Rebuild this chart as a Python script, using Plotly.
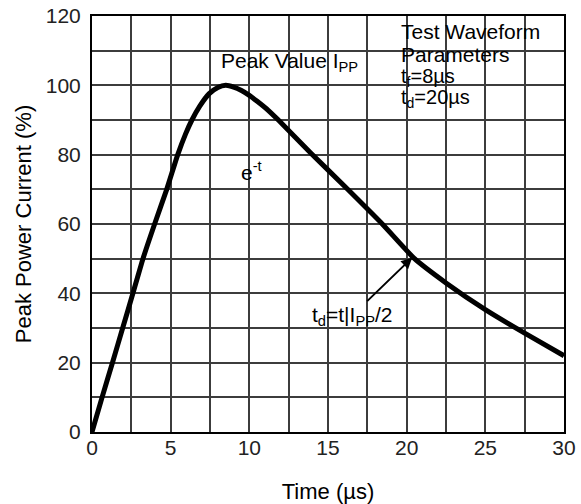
import plotly.graph_objects as go

# ---- data ----
time_us = [0, 0.64, 1.3, 1.95, 2.6, 3.24, 3.98, 4.75, 5.45, 5.95, 6.35, 6.85, 7.45, 8.0, 8.5,
           9.0, 9.5, 10.0, 10.5, 11.2, 11.8, 13.9, 16.25, 18.45, 20.5, 22.5, 25.0, 27.5, 30.0]
current_pct = [0, 10, 20, 30, 40, 50, 60, 70, 80, 86, 90, 94, 97.6, 99.4, 100,
               99.5, 98.5, 97.1, 95.4, 92.8, 90.2, 80.5, 70, 60, 50, 43, 35.3, 28.5, 22]

x_ticks = [0, 5, 10, 15, 20, 25, 30]
y_ticks = [0, 20, 40, 60, 80, 100, 120]

FONT = "Liberation Sans, Arial, sans-serif"
GRID = "#3c3c3c"

fig = go.Figure()
fig.add_trace(go.Scatter(
    x=time_us, y=current_pct, mode="lines",
    line=dict(color="black", width=5, shape="spline", smoothing=0.5),
    hoverinfo="skip", showlegend=False,
))

# white background patches behind the text blocks (above grid, below traces)
boxes = [
    (0.265, 0.604, 0.850, 0.928),   # Peak Value
    (0.642, 1.0, 0.778, 1.0),       # Test waveform parameters
    (0.419, 0.667, 0.232, 0.318),   # t_d label
    (0.31, 0.36, 0.60, 0.655),      # e^-t
]
shapes = []
for x0, x1, y0, y1 in boxes:
    shapes.append(dict(type="rect", xref="paper", yref="paper", x0=x0, x1=x1, y0=y0, y1=y1,
                       fillcolor="white", line=dict(width=0), layer="between"))

ann_font = dict(family=FONT, size=21, color="black")
box_font = dict(family=FONT, size=20, color="black")
annotations = [
    dict(text="Peak Value I<sub>PP</sub>", xref="paper", yref="paper", x=0.27, y=0.89,
         xanchor="left", yanchor="middle", showarrow=False, font=ann_font),
    dict(text="Test Waveform", xref="paper", yref="paper", x=0.65, y=0.963,
         xanchor="left", yanchor="middle", showarrow=False, font=ann_font),
    dict(text="Parameters", xref="paper", yref="paper", x=0.65, y=0.908,
         xanchor="left", yanchor="middle", showarrow=False, font=ann_font),
    dict(text="t<sub>f</sub>=8µs", xref="paper", yref="paper", x=0.65, y=0.853,
         xanchor="left", yanchor="middle", showarrow=False, font=box_font),
    dict(text="t<sub>d</sub>=20µs", xref="paper", yref="paper", x=0.65, y=0.801,
         xanchor="left", yanchor="middle", showarrow=False, font=box_font),
    dict(text="e<sup>-t</sup>", xref="paper", yref="paper", x=0.337, y=0.627,
         xanchor="center", yanchor="middle", showarrow=False, font=ann_font),
    dict(text="t<sub>d</sub>=t|I<sub>PP</sub>/2", x=20.35, y=50.3, xref="x", yref="y",
         showarrow=True, ax=-60, ay=58, arrowhead=2, arrowsize=1.1, arrowwidth=2,
         arrowcolor="black", font=ann_font),
]

fig.update_layout(
    width=581, height=504,
    margin=dict(l=92, r=17, t=16, b=72, autoexpand=False),
    paper_bgcolor="white", plot_bgcolor="white",
    font=dict(family=FONT, size=21, color="#222"),
    shapes=shapes, annotations=annotations,
    xaxis=dict(
        range=[0, 30], tickvals=x_ticks, ticktext=[str(v) for v in x_ticks],
        showgrid=True, gridcolor=GRID, gridwidth=1.6,
        minor=dict(dtick=2.5, showgrid=True, gridcolor=GRID, gridwidth=1.6),
        showline=True, linecolor="black", linewidth=2, mirror=True,
        ticks="", zeroline=False, ticklabelstandoff=-4, automargin=False,
        ticklabeloverflow="allow",
        tickfont=dict(family=FONT, size=21, color="#222"),
        title=dict(text="Time (µs)", font=dict(family=FONT, size=22, color="black"), standoff=31),
    ),
    yaxis=dict(
        range=[0, 120], tickvals=y_ticks, ticktext=[str(v) for v in y_ticks],
        showgrid=True, gridcolor=GRID, gridwidth=1.6,
        minor=dict(dtick=10, showgrid=True, gridcolor=GRID, gridwidth=1.6),
        showline=True, linecolor="black", linewidth=2, mirror=True,
        ticks="", zeroline=False, ticklabelstandoff=5, automargin=False,
        ticklabeloverflow="allow",
        tickfont=dict(family=FONT, size=21, color="#222"),
        title=dict(text="Peak Power Current (%)", font=dict(family=FONT, size=22, color="black"), standoff=8),
    ),
)

# remove the browser's default 8px page margin so the figure fills the window exactly
fig.write_html("out.html", config={"displayModeBar": False},
               post_script="document.body.style.margin='0';")
